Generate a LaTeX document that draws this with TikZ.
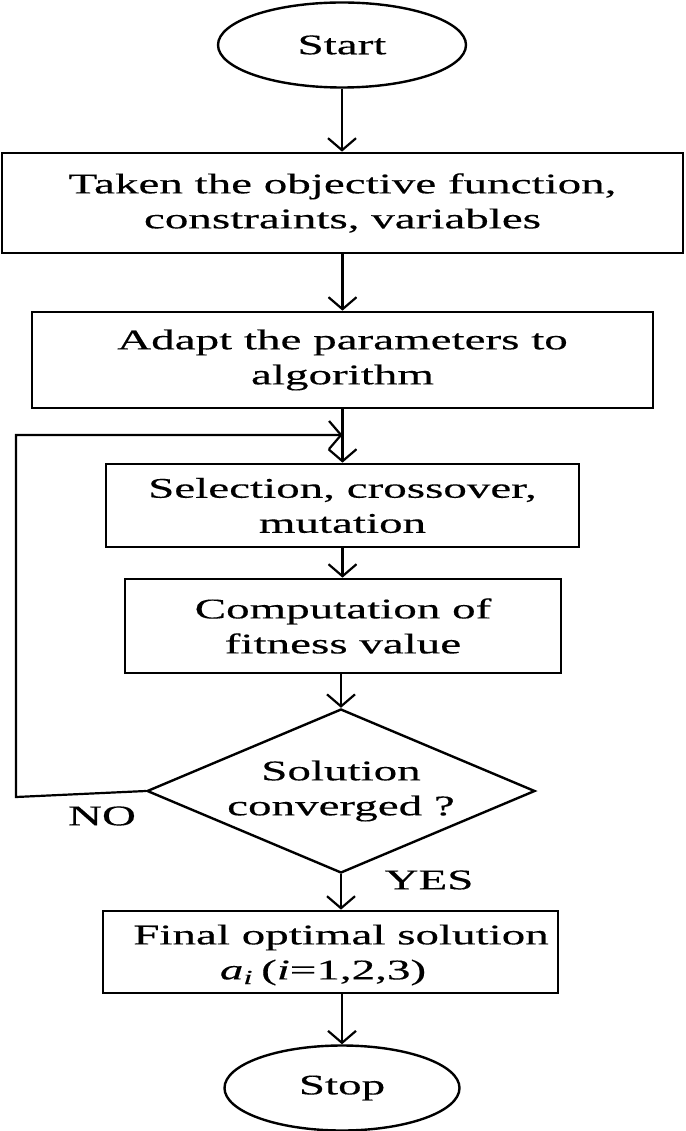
\documentclass[tikz,border=0pt]{standalone}
\usepackage{fontspec}
\setmainfont{Liberation Serif}[FakeBold=0.3]
\usepackage{graphicx}
\usetikzlibrary{arrows.meta,shapes.geometric}
\newcommand{\sx}[1]{\scalebox{1.65}[1]{#1}}
\tikzset{
  txtfont/.style={font=\fontsize{28.5}{35}\selectfont},
  box/.style={draw, rectangle, line width=2.7pt, inner sep=0pt, align=center, txtfont},
  term/.style={draw, ellipse, line width=2.4pt, inner sep=0pt, align=center, txtfont},
  dec/.style={draw, diamond, aspect=2.37, line width=2.4pt, inner sep=0pt, align=center, txtfont},
  txt/.style={inner sep=0pt, align=center, txtfont},
  lbl/.style={inner sep=0pt, txtfont},
  arr/.style={line width=2.2pt, -{Straight Barb[length=12pt,width=28pt]}}
}
\begin{document}
\begin{tikzpicture}[x=1pt,y=1pt]
\useasboundingbox (0,0) rectangle (685,-1131);
\node[term, minimum width=248pt, minimum height=85pt] (start) at (342,-45) {\sx{Start}};
\node[box, minimum width=681pt, minimum height=100pt] (b1) at (342.5,-203) {\sx{Taken the objective function,}\\\sx{constraints, variables}};
\node[box, minimum width=621pt, minimum height=96pt] (b2) at (342.5,-360) {\sx{Adapt the parameters to}\\\sx{algorithm}};
\node[box, minimum width=473pt, minimum height=83pt] (b3) at (342.5,-505.5) {\sx{Selection, crossover,}\\\sx{mutation}};
\node[box, minimum width=436pt, minimum height=94pt] (b4) at (343,-626) {\sx{Computation of}\\\sx{fitness value}};
\node[dec, minimum width=388pt, minimum height=164pt] (d) at (341,-791) {\sx{Solution}\\\sx{converged ?}};
\node[box, minimum width=455pt, minimum height=82pt] (b5) at (330.5,-952) {};
\node[txt] (b5t) at (341,-955) {\sx{Final optimal solution}\\\sx{\textit{a}\textsubscript{\textit{i}}\,(\textit{i}=1,2,3)}\rule{36pt}{0pt}};
\node[term, minimum width=235pt, minimum height=85pt] (stop) at (342,-1088) {\sx{Stop}};
\node[lbl] (no) at (102,-816) {\sx{NO}};
\node[lbl] (yes) at (429,-880) {\sx{YES}};
\coordinate (lb) at (16,-797);
\coordinate (lt) at (16,-435);
\coordinate (m) at (342.5,-435);
\draw[arr] (start.south) -- (start.south |- b1.north);
\draw[arr] (b1.south) -- (b1.south |- b2.north);
\draw[arr] (b2.south) -- (b2.south |- b3.north);
\draw[arr] (d.west) -- (lb) -- (lt) -- (m);
\draw[arr] (b3.south) -- (b3.south |- b4.north);
\draw[arr] (d.north |- b4.south) -- (d.north);
\draw[arr] (d.south) -- (d.south |- b5.north);
\draw[arr] (stop.north |- b5.south) -- (stop.north);
\end{tikzpicture}
\end{document}
